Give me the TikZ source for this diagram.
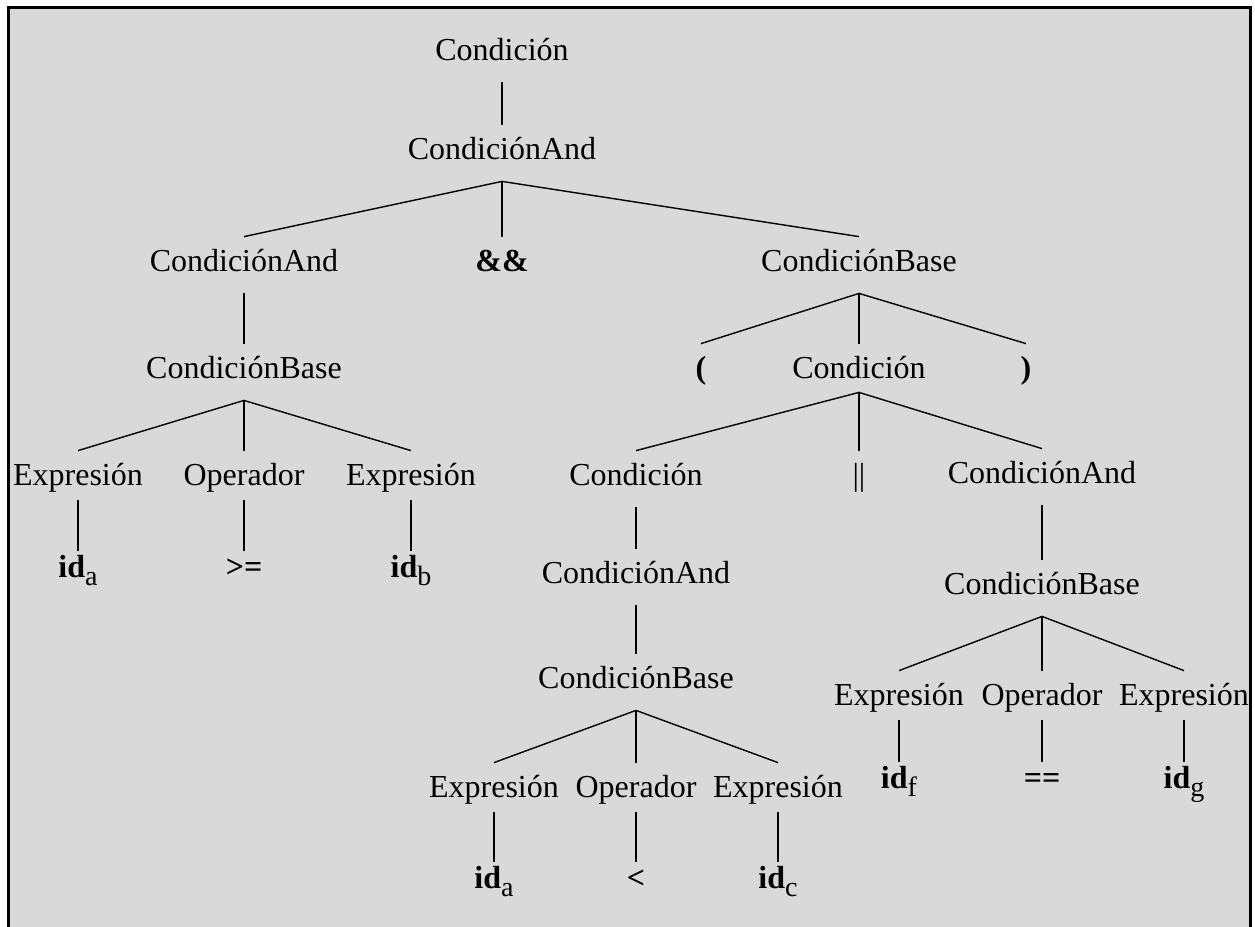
\documentclass[tikz,border=0pt]{standalone}
\usepackage{fontspec}
\setmainfont{Liberation Serif}
\definecolor{fondo}{RGB}{217,217,217}
\newcommand{\idx}[1]{\textbf{id}\raisebox{-4pt}{\mdseries\fontsize{14}{16}\selectfont #1}}

\begin{document}
\begin{tikzpicture}[x=0.5pt,y=-0.5pt]
\tikzset{nt/.style={anchor=base, inner sep=0pt, font=\fontsize{16}{19}\selectfont, text height=17pt, text depth=11pt},
  pre/.style={nt, text depth=7.5pt},
  leaf/.style={nt, text height=13pt, font=\fontsize{16}{19}\selectfont\bfseries},
  term/.style={nt, font=\fontsize{16}{19}\selectfont\bfseries},
  rama/.style={line width=0.7pt}}
\useasboundingbox (0,0) rectangle (1255,927);
\fill[white] (0,0) rectangle (1255,927);
\fill[fondo] (8.5,7.5) rectangle (1250.5,927);
\draw[line width=1.5pt] (8.5,927) -- (8.5,7.5) -- (1250.5,7.5) -- (1250.5,927);

\node[nt] (c0) at (502,60) {Condición};
\node[nt] (c1) at (502,159) {CondiciónAnd};
\node[nt] (ca1) at (244,271) {CondiciónAnd};
\node[term] (amp) at (502,271) {\&\&};
\node[nt] (cb1) at (859,271) {CondiciónBase};
\node[nt] (cb2) at (244,378) {CondiciónBase};
\node[term] (pa) at (701,378) {(};
\node[nt, text depth=7pt] (c2) at (859,378) {Condición};
\node[term] (pc) at (1026,378) {)};

% rama izquierda
\node[pre] (e1) at (78,485) {Expresión};
\node[pre] (o1) at (244,485) {Operador};
\node[pre] (e2) at (411,485) {Expresión};
\node[leaf] (i1) at (78,577) {\idx{a}};
\node[leaf] (op1) at (244,577) {>=};
\node[leaf] (i2) at (411,577) {\idx{b}};

% dentro del parentesis
\node[nt] (c3) at (636,485) {Condición};
\node[nt] (bar) at (859,485) {||};
\node[nt] (ca2) at (1042,483) {CondiciónAnd};
\node[nt] (ca3) at (636,583) {CondiciónAnd};
\node[nt] (cb3) at (1042,594) {CondiciónBase};
\node[nt] (cb4) at (636,688) {CondiciónBase};
\node[pre] (e3) at (899,705) {Expresión};
\node[pre] (o2) at (1042,705) {Operador};
\node[pre] (e4) at (1184,705) {Expresión};
\node[leaf] (i3) at (899,788) {\idx{f}};
\node[leaf] (op2) at (1042,788) {==};
\node[leaf] (i4) at (1184,788) {\idx{g}};
\node[pre] (e5) at (494,797) {Expresión};
\node[pre] (o3) at (636,797) {Operador};
\node[pre] (e6) at (778,797) {Expresión};
\node[leaf] (i5) at (494,888) {\idx{a}};
\node[leaf] (op3) at (636,888) {<};
\node[leaf] (i6) at (778,888) {\idx{c}};

\foreach \a/\b in {c0/c1, c1/ca1, c1/amp, c1/cb1, ca1/cb2, cb1/pa, cb1/c2, cb1/pc,
    cb2/e1, cb2/o1, cb2/e2, e1/i1, o1/op1, e2/i2,
    c2/c3, c2/bar, c2/ca2, c3/ca3, ca3/cb4, cb4/e5, cb4/o3, cb4/e6, e5/i5, o3/op3, e6/i6,
    ca2/cb3, cb3/e3, cb3/o2, cb3/e4, e3/i3, o2/op2, e4/i4}
  \draw[rama] (\a.south) -- (\b.north);

\end{tikzpicture}
\end{document}
